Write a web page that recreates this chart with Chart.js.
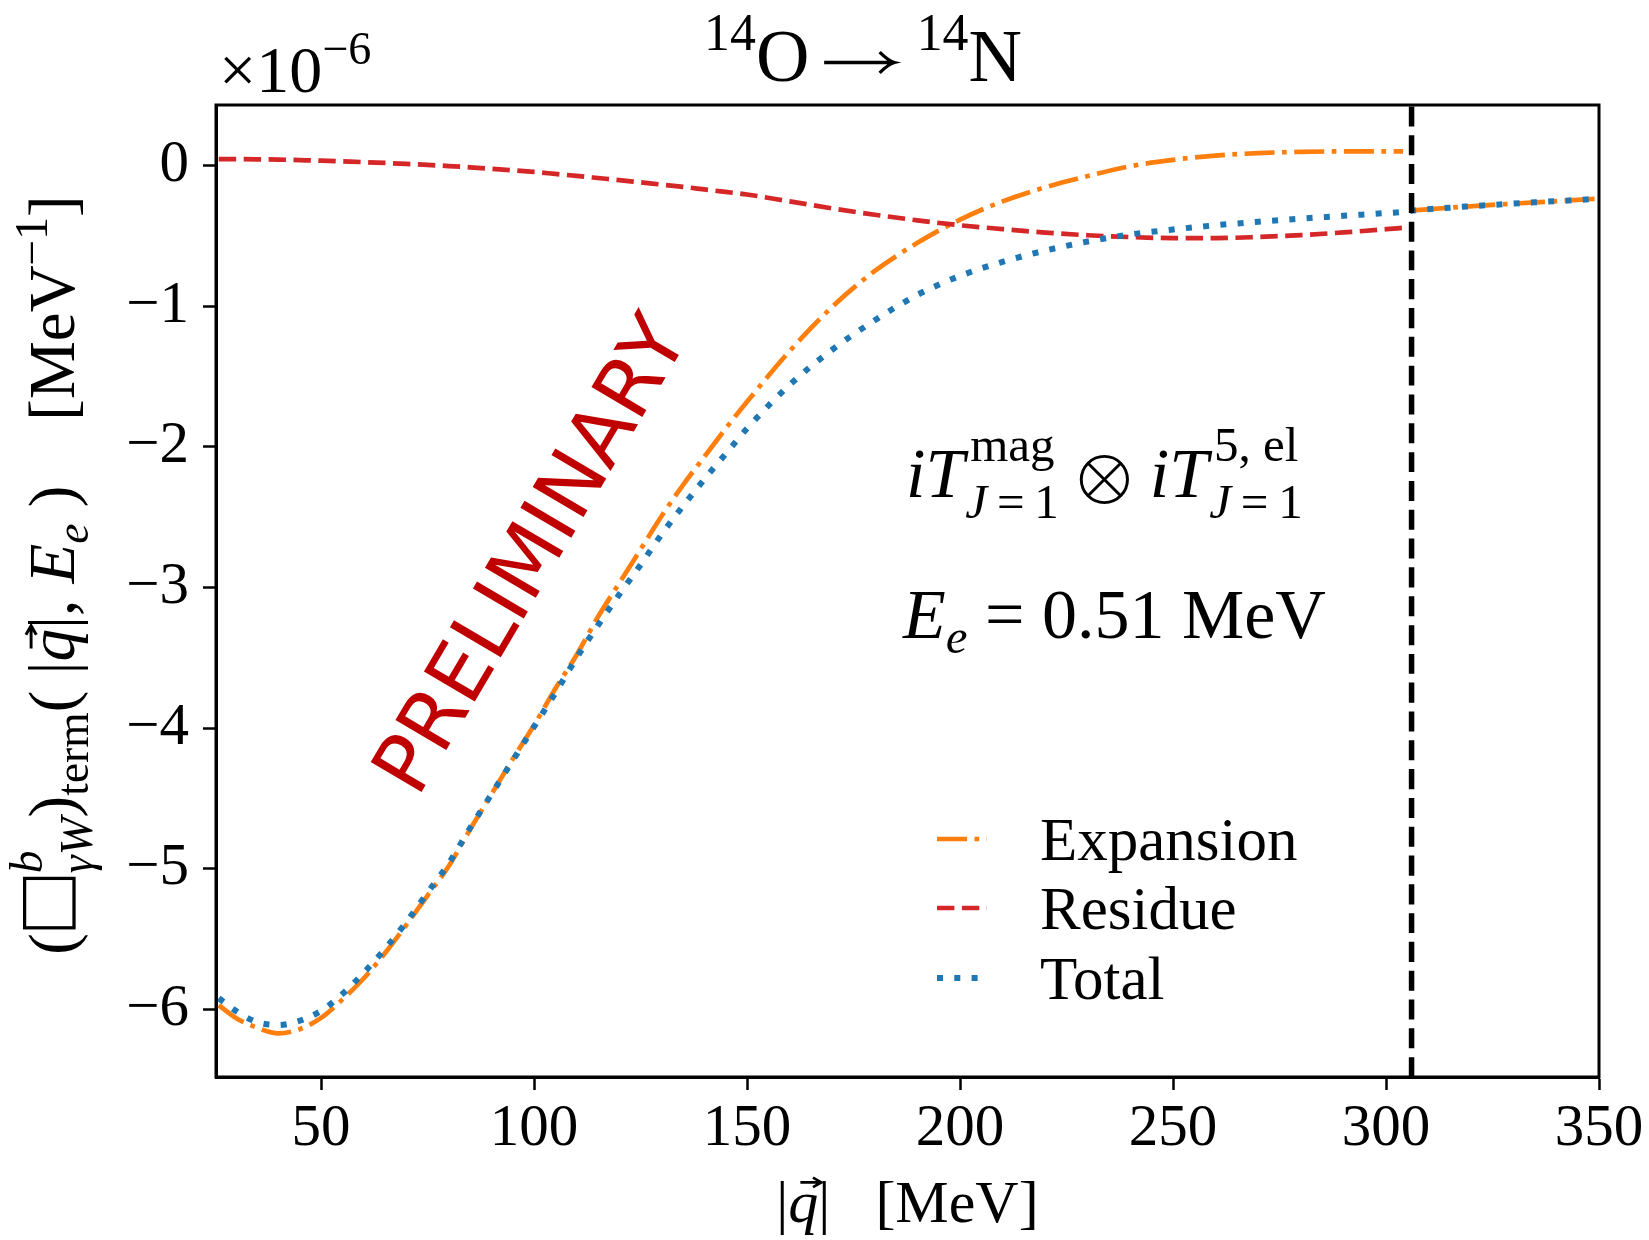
<!DOCTYPE html>
<html>
<head>
<meta charset="utf-8">
<script src="https://cdn.jsdelivr.net/npm/chart.js@4.4.1/dist/chart.umd.min.js"></script>
<style>
  html, body { margin: 0; padding: 0; background: #fff; }
  canvas { display: block; }
</style>
</head>
<body>
<canvas id="canvas1" width="1649" height="1240"></canvas>
<script>
// |q| grid in MeV below the cut, and the three terms in units of 1e-6 MeV^-1
var qLow = [26, 30, 35, 40, 45, 50, 55, 60, 65, 70, 75, 80, 85, 90, 95, 100, 105, 110, 115, 120,
  125, 130, 135, 140, 145, 150, 160, 170, 180, 190, 200, 210, 220, 230, 240, 250, 260, 270, 280, 290, 300, 304];
var expansion = [-5.97, -6.06, -6.13, -6.17, -6.14, -6.06, -5.93, -5.78, -5.60, -5.40, -5.19, -4.98, -4.72, -4.47, -4.22, -3.98, -3.72, -3.48, -3.21, -2.97,
  -2.73, -2.49, -2.27, -2.07, -1.87, -1.68, -1.32, -1.005, -0.75, -0.55, -0.385, -0.255, -0.155, -0.075, -0.005, 0.04, 0.07, 0.088, 0.097, 0.10, 0.10, 0.10];
var residue = [0.045, 0.045, 0.044, 0.042, 0.038, 0.034, 0.029, 0.024, 0.018, 0.011, 0.004, -0.004, -0.013, -0.023, -0.034, -0.046, -0.06, -0.074, -0.089, -0.104,
  -0.12, -0.136, -0.152, -0.17, -0.188, -0.206, -0.255, -0.305, -0.35, -0.39, -0.425, -0.452, -0.477, -0.496, -0.509, -0.516, -0.516, -0.508, -0.495, -0.476, -0.453, -0.443];
var total = [-5.92, -6.01, -6.09, -6.11, -6.08, -6.01, -5.89, -5.74, -5.57, -5.38, -5.17, -4.96, -4.71, -4.47, -4.23, -3.99, -3.75, -3.50, -3.27, -3.05,
  -2.84, -2.62, -2.42, -2.23, -2.05, -1.87, -1.56, -1.31, -1.10, -0.92, -0.785, -0.685, -0.605, -0.54, -0.49, -0.455, -0.425, -0.40, -0.378, -0.358, -0.338, -0.33];

// above the cut there is no residue, expansion and total coincide
var qHigh = [307, 315, 325, 335, 345, 350];
var expansionHigh = [-0.318, -0.30, -0.28, -0.262, -0.245, -0.235];
var totalHigh = [-0.318, -0.30, -0.28, -0.262, -0.245, -0.235];

var qCut = 306;
var xRange = [25.35, 350];
var yRange = [-6.48, 0.43];
var xTicks = [50, 100, 150, 200, 250, 300, 350];
var yTicks = [-6, -5, -4, -3, -2, -1, 0];

function pts(xs, ys) {
  return xs.map(function (x, i) { return { x: x, y: ys[i] }; });
}
function fmt(v) {
  return v < 0 ? '\u2212' + Math.abs(v) : String(v);
}

// hand drawn glyphs
function arrowGlyph(ctx, x, y, fs, w) {
  var ay = y - 0.25 * fs, x0 = x + 0.2 * fs, x1 = x + w - 0.3 * fs;
  ctx.lineWidth = 0.045 * fs;
  ctx.beginPath();
  ctx.moveTo(x0, ay); ctx.lineTo(x1, ay);
  ctx.moveTo(x1 - 0.2 * fs, ay - 0.14 * fs); ctx.quadraticCurveTo(x1 - 0.08 * fs, ay - 0.02 * fs, x1, ay);
  ctx.quadraticCurveTo(x1 - 0.08 * fs, ay + 0.02 * fs, x1 - 0.2 * fs, ay + 0.14 * fs);
  ctx.stroke();
}
function otimesGlyph(ctx, x, y, fs, w) {
  var cx = x + w / 2, cy = y - 0.25 * fs, r = 0.33 * fs, d = r * Math.SQRT1_2;
  ctx.lineWidth = 0.042 * fs;
  ctx.beginPath();
  ctx.arc(cx, cy, r, 0, 2 * Math.PI);
  ctx.moveTo(cx - d, cy - d); ctx.lineTo(cx + d, cy + d);
  ctx.moveTo(cx + d, cy - d); ctx.lineTo(cx - d, cy + d);
  ctx.stroke();
}
function boxGlyph(ctx, x, y, fs, w) {
  var side = 0.76 * fs;
  ctx.lineWidth = 0.05 * fs;
  ctx.strokeRect(x + 0.08 * fs, y - side, side, side);
}

// small rich-text helper for sub/superscripts
function layoutRuns(ctx, runs, size) {
  var x = 0, mark = 0, hold = 0, items = [];
  runs.forEach(function (r) {
    var fs = size * (r.s || 1);
    var font = (r.it ? 'italic ' : '') + fs + 'px ' + (r.f || 'Liberation Serif');
    ctx.font = font;
    var w = r.draw ? r.w * fs : ctx.measureText(r.t).width;
    if (r.mark) mark = x;
    if (r.back) { hold = x; x = mark; }
    if (r.join) x = Math.max(x, hold);
    x += (r.kern || 0) * fs;
    items.push({ r: r, font: font, fs: fs, x: x, w: w });
    x += w;
  });
  return { items: items, width: x };
}
function drawRuns(ctx, runs, x, y, size, align) {
  var lay = layoutRuns(ctx, runs, size);
  var ox = align === 'center' ? x - lay.width / 2 : x;
  ctx.textAlign = 'left';
  ctx.textBaseline = 'alphabetic';
  lay.items.forEach(function (it) {
    var r = it.r, bx = ox + it.x, by = y + (r.dy || 0) * size;
    if (r.draw) {
      r.draw(ctx, bx, by, it.fs, it.w);
    } else {
      ctx.font = it.font;
      ctx.fillText(r.t, bx, by);
    }
    if (r.vec) {
      var a0 = bx + 0.2 * it.fs, a1 = bx + it.w + 0.05 * it.fs, ay = by - 0.66 * it.fs;
      ctx.lineWidth = 0.045 * it.fs;
      ctx.beginPath();
      ctx.moveTo(a0, ay); ctx.lineTo(a1, ay);
      ctx.moveTo(a1 - 0.14 * it.fs, ay - 0.08 * it.fs); ctx.lineTo(a1, ay); ctx.lineTo(a1 - 0.14 * it.fs, ay + 0.08 * it.fs);
      ctx.stroke();
    }
  });
}

var labelsPlugin = {
  id: 'labels',
  afterDraw: function (chart) {
    var ctx = chart.ctx, a = chart.chartArea;
    ctx.save();
    ctx.fillStyle = '#000';
    ctx.strokeStyle = '#000';

    // frame
    ctx.lineWidth = 3;
    ctx.strokeRect(a.left, a.top, a.right - a.left, a.bottom - a.top);

    // title and offset
    drawRuns(ctx, [
      { t: '14', s: 0.7, dy: -0.42 }, { t: 'O' },
      { t: '', draw: arrowGlyph, w: 1.45 },
      { t: '14', s: 0.7, dy: -0.42 }, { t: 'N' }
    ], 863, 81, 74, 'center');
    drawRuns(ctx, [{ t: '\u00d710' }, { t: '\u22126', s: 0.7, dy: -0.42 }], 219, 92, 66, 'left');

    // axis titles
    drawRuns(ctx, [{ t: '|' }, { t: 'q', it: true, vec: true }, { t: '|' }, { t: '   [MeV]' }], (a.left + a.right) / 2, 1222, 60, 'center');
    ctx.save();
    ctx.translate(74, (a.top + a.bottom) / 2 - 16);
    ctx.rotate(-Math.PI / 2);
    drawRuns(ctx, [
      { t: '(' }, { t: '', draw: boxGlyph, w: 0.92 },
      { t: 'b', it: true, s: 0.7, dy: -0.5, mark: true },
      { t: '\u03b3W', it: true, s: 0.7, dy: 0.28, back: true },
      { t: ')', join: true }, { t: 'term', s: 0.7, dy: 0.22 },
      { t: '( ' }, { t: '|' }, { t: 'q', it: true, vec: true }, { t: '|, ' },
      { t: 'E', it: true }, { t: 'e', it: true, s: 0.7, dy: 0.22 }, { t: ' )' },
      { t: '    [MeV' }, { t: '\u22121', s: 0.7, dy: -0.42 }, { t: ']' }
    ], 0, 0, 65, 'center');
    ctx.restore();

    // annotations
    drawRuns(ctx, [
      { t: 'i', it: true }, { t: 'T', it: true },
      { t: 'mag', s: 0.7, dy: -0.52, mark: true, kern: 0.12 },
      { t: 'J', it: true, s: 0.7, dy: 0.3, back: true, kern: 0.02 }, { t: '\u2009=\u20091', s: 0.7, dy: 0.3 },
      { t: '', draw: otimesGlyph, w: 1.3, join: true },
      { t: 'i', it: true }, { t: 'T', it: true },
      { t: '5, el', s: 0.7, dy: -0.52, mark: true, kern: 0.12 },
      { t: 'J', it: true, s: 0.7, dy: 0.3, back: true, kern: 0.02 }, { t: '\u2009=\u20091', s: 0.7, dy: 0.3 },
      { t: '', join: true }
    ], 906, 497, 70, 'left');
    drawRuns(ctx, [{ t: 'E', it: true }, { t: 'e', it: true, s: 0.7, dy: 0.22 }, { t: ' = 0.51 MeV' }], 903, 638, 70, 'left');

    // legend
    var rows = [839, 908, 978];
    chart.data.datasets.filter(function (d) { return d.label; }).forEach(function (d, i) {
      ctx.save();
      ctx.strokeStyle = d.borderColor;
      ctx.lineWidth = d.borderWidth;
      ctx.setLineDash(d.borderDash);
      ctx.beginPath();
      ctx.moveTo(937, rows[i]);
      ctx.lineTo(987, rows[i]);
      ctx.stroke();
      ctx.restore();
      ctx.font = '61px Liberation Serif';
      ctx.textAlign = 'left';
      ctx.textBaseline = 'alphabetic';
      ctx.fillText(d.label, 1040, rows[i] + 21);
    });

    // watermark
    ctx.save();
    ctx.translate(528, 553);
    ctx.rotate(-59.5 * Math.PI / 180);
    ctx.font = '81px DejaVu Sans';
    ctx.fillStyle = '#c00000';
    ctx.textAlign = 'center';
    ctx.textBaseline = 'alphabetic';
    ctx.fillText('PRELIMINARY', 0, 0.729 * 81 / 2);
    ctx.restore();

    ctx.restore();
  }
};

var line = { pointRadius: 0, fill: false, cubicInterpolationMode: 'monotone', spanGaps: false };

new Chart(document.getElementById('canvas1'), {
  type: 'line',
  data: {
    datasets: [
      Object.assign({
        label: 'Expansion',
        data: pts(qLow, expansion).concat([{ x: qCut, y: null }], pts(qHigh, expansionHigh)),
        borderColor: '#ff7f0e', borderWidth: 4.7, borderDash: [30, 7.5, 4.7, 7.5], order: 3
      }, line),
      Object.assign({
        label: 'Residue',
        data: pts(qLow, residue),
        borderColor: '#d62728', borderWidth: 4.7, borderDash: [17.4, 7.5], order: 2
      }, line),
      Object.assign({
        label: 'Total',
        data: pts(qLow, total).concat(pts(qHigh, totalHigh)),
        borderColor: '#1f77b4', borderWidth: 6, borderDash: [6, 11.3], order: 1
      }, line),
      Object.assign({
        label: '',
        data: [{ x: qCut, y: yRange[0] }, { x: qCut, y: yRange[1] }],
        borderColor: '#000', borderWidth: 5.5, borderDash: [20, 8.8], order: 0
      }, line)
    ]
  },
  options: {
    responsive: false,
    animation: false,
    layout: { padding: { top: 105, right: 50, left: 0, bottom: 0 } },
    plugins: { legend: { display: false }, tooltip: { enabled: false } },
    scales: {
      x: {
        type: 'linear', min: xRange[0], max: xRange[1],
        afterBuildTicks: function (s) { s.ticks = xTicks.map(function (v) { return { value: v }; }); },
        afterFit: function (s) { s.height = 163; },
        ticks: { color: '#000', font: { family: 'Liberation Serif', size: 59 }, padding: 4, maxRotation: 0, autoSkip: false, callback: fmt },
        grid: { drawOnChartArea: false, tickLength: 13, tickWidth: 2.5, tickColor: '#000' },
        border: { color: '#000', width: 3 }
      },
      y: {
        type: 'linear', min: yRange[0], max: yRange[1],
        afterBuildTicks: function (s) { s.ticks = yTicks.map(function (v) { return { value: v }; }); },
        afterFit: function (s) { s.width = 216; },
        ticks: { color: '#000', font: { family: 'Liberation Serif', size: 59 }, padding: 14, autoSkip: false, callback: fmt },
        grid: { drawOnChartArea: false, tickLength: 13, tickWidth: 2.5, tickColor: '#000' },
        border: { color: '#000', width: 3 }
      }
    }
  },
  plugins: [labelsPlugin]
});
</script>
</body>
</html>
